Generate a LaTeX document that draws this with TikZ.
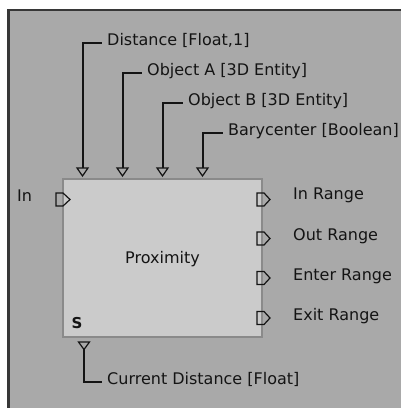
\documentclass[tikz,border=0pt]{standalone}
\usepackage{fontspec}
\setmainfont{DejaVu Sans}
\definecolor{panelgray}{HTML}{A9A9A9}
\definecolor{blockgray}{HTML}{CBCBCB}
\definecolor{edgegray}{HTML}{8A8A8A}
\definecolor{inkdark}{HTML}{141414}
\begin{document}
\begin{tikzpicture}[x=1pt,y=-1pt,
  txt/.style={inner sep=0pt, anchor=base west, text=inkdark, font=\fontsize{16}{18}\selectfont},
  lbl/.style={anchor=west, inner xsep=5pt, inner ysep=0pt, text height=9pt, text depth=5pt,
              text=inkdark, font=\fontsize{16}{18}\selectfont},
  wire/.style={draw=inkdark, line width=2pt},
  pinline/.style={draw=inkdark, line width=1.2pt, line join=miter},
  block/.style={draw=edgegray, fill=blockgray, line width=1.5pt, rectangle, inner sep=0pt,
                minimum width=199pt, minimum height=158pt}]
\useasboundingbox (0,0) rectangle (401,408);
\clip (0,0) rectangle (401,408);
\fill[white] (0,0) rectangle (401,408);

% panel
\filldraw[fill=panelgray, draw=inkdark!85, line width=2.5pt] (8.5,10) rectangle (430,440);

% building block
\node[block] (blk) at (162.5,258) {};
\node[txt, anchor=base] (name) at (162.5,263) {Proximity};
\node[txt, font=\fontsize{15}{17}\bfseries] (sflag) at (71.5,328) {S};

% parameter inputs
\coordinate (pD) at (82.5,168);
\coordinate (pA) at (122.5,168);
\coordinate (pB) at (162.5,168);
\coordinate (pC) at (202.5,168);
\node[lbl] (lD) at (102,43) {Distance [Float,1]};
\node[lbl] (lA) at (142,73) {Object A [3D Entity]};
\node[lbl] (lB) at (183,103) {Object B [3D Entity]};
\node[lbl] (lC) at (223,133) {Barycenter [Boolean]};
\foreach \p/\l in {pD/lD, pA/lA, pB/lB, pC/lC}
  \draw[wire] (\p) |- (\l.west);
\foreach \x in {82.5,122.5,162.5,202.5}
  \draw[pinline] (\x-5.5,168) -- (\x+5.5,168) -- (\x,176) -- cycle;

% parameter output
\coordinate (pOut) at (84,349);
\node[lbl] (lCur) at (102,382) {Current Distance [Float]};
\draw[wire] (pOut) |- (lCur.west);
\draw[pinline] (78.5,342) -- (89.5,342) -- (84,349.5) -- cycle;

% behavior input
\node[txt] (lIn) at (17,201) {In};
\draw[pinline] (56,193) -- (63,193) -- (70,199.5) -- (63,206) -- (56,206) -- cycle;

% behavior outputs
\foreach \c/\b/\n/\t in {199.5/199/oIn/In Range, 238.5/240/oOut/Out Range,
                         278/280/oEnter/Enter Range, 318/320/oExit/Exit Range}{
  \draw[pinline] (257,\c-6.5) -- (264,\c-6.5) -- (270,\c) -- (264,\c+6.5) -- (257,\c+6.5) -- cycle;
  \node[txt] (\n) at (293,\b) {\t};
}
\end{tikzpicture}
\end{document}
